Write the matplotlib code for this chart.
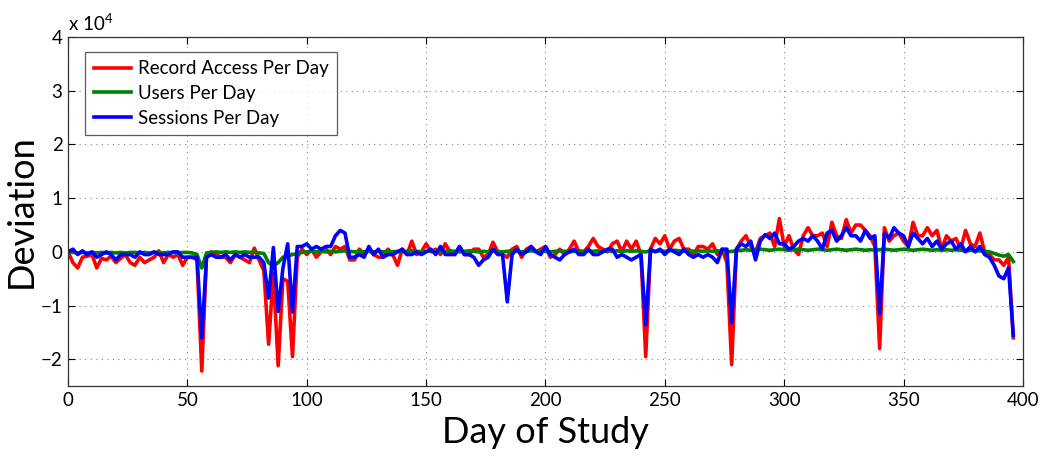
import numpy as np
import matplotlib
matplotlib.use("Agg")
import matplotlib.pyplot as plt

# Day of study (every second day)
days = list(range(0, 397, 2))

# Deviation values in units of 10^4
record_access = [
    0.0, -0.2, -0.3, -0.1, -0.08, -0.05, -0.3, -0.12, -0.15, -0.08,
    -0.2, -0.12, -0.05, -0.2, -0.25, -0.1, -0.2, -0.15, -0.1, 0.02,
    -0.2, -0.05, -0.1, -0.05, -0.25, -0.1, -0.1, -0.15, -2.22, -0.05,
    0.0, -0.05, -0.1, -0.1, -0.2, -0.05, -0.1, -0.15, -0.2, 0.07,
    -0.15, -0.35, -1.72, -0.4, -2.12, -0.5, -0.55, -1.95, -0.1, 0.05,
    -0.05, 0.05, -0.1, 0.0, 0.05, -0.05, 0.1, 0.05, 0.1, -0.15,
    -0.15, 0.05, -0.05, 0.05, -0.05, -0.1, -0.1, 0.05, -0.05, -0.25,
    0.05, -0.05, 0.2, -0.05, 0.0, 0.15, 0.0, 0.05, -0.05, 0.15,
    0.0, -0.05, 0.1, -0.05, -0.05, 0.05, 0.05, -0.1, -0.05, 0.18,
    0.0, -0.05, -0.1, 0.05, 0.1, -0.1, 0.05, 0.1, 0.0, 0.05,
    0.1, -0.1, -0.05, 0.05, -0.05, 0.05, 0.2, 0.0, 0.0, 0.1,
    0.25, 0.1, 0.05, 0.0, 0.15, 0.2, 0.0, 0.2, 0.05, 0.2,
    -0.05, -1.95, 0.05, 0.25, 0.15, 0.3, 0.05, 0.2, 0.25, 0.05,
    0.05, -0.05, 0.1, 0.1, 0.05, 0.15, -0.05, 0.05, -0.2, -2.1,
    0.05, 0.2, 0.3, 0.1, 0.0, 0.25, 0.3, 0.35, 0.1, 0.62,
    0.1, 0.3, 0.05, -0.05, 0.3, 0.45, 0.3, 0.3, 0.35, 0.1,
    0.55, 0.3, 0.25, 0.6, 0.35, 0.5, 0.5, 0.4, 0.3, 0.1,
    -1.8, 0.45, 0.2, 0.3, 0.35, 0.2, 0.1, 0.55, 0.3, 0.3,
    0.45, 0.3, 0.4, 0.05, 0.3, 0.2, 0.25, 0.05, 0.4, 0.15,
    0.1, 0.35, 0.0, -0.05, -0.15, -0.15, -0.25, -0.1, -1.6,
]

users = [
    0.0, -0.01, -0.02, -0.01, -0.02, -0.01, -0.02, -0.01, -0.02, -0.01,
    -0.02, -0.01, -0.02, -0.01, -0.01, -0.02, -0.01, -0.02, -0.01, -0.01,
    -0.02, -0.01, -0.01, -0.02, -0.01, -0.01, -0.02, -0.05, -0.3, -0.02,
    -0.01, 0.0, -0.01, 0.0, -0.01, 0.0, -0.01, 0.0, -0.01, 0.0,
    -0.02, -0.03, -0.2, -0.27, -0.2, -0.1, -0.08, -0.05, -0.03, -0.01,
    0.0, 0.01, 0.0, 0.01, 0.0, 0.01, 0.0, 0.01, 0.02, 0.01,
    0.0, 0.01, 0.0, 0.01, 0.0, 0.01, 0.0, 0.01, 0.0, 0.01,
    0.0, 0.01, 0.02, 0.01, 0.0, 0.01, 0.02, 0.01, 0.0, 0.01,
    0.02, 0.01, 0.0, 0.01, 0.02, 0.01, 0.0, 0.01, 0.0, 0.02,
    0.01, 0.0, 0.01, 0.02, 0.01, 0.0, 0.01, 0.02, 0.01, 0.02,
    0.01, 0.0, 0.01, 0.02, 0.01, 0.0, 0.01, 0.02, 0.01, 0.02,
    0.01, 0.02, 0.01, 0.02, 0.01, 0.02, 0.01, 0.02, 0.01, 0.02,
    0.01, 0.0, 0.02, 0.01, 0.02, 0.01, 0.02, 0.03, 0.02, 0.01,
    0.02, 0.01, 0.02, 0.01, 0.02, 0.01, 0.02, 0.01, 0.0, 0.01,
    0.02, 0.03, 0.04, 0.03, 0.04, 0.05, 0.04, 0.03, 0.04, 0.05,
    0.04, 0.03, 0.04, 0.05, 0.04, 0.03, 0.04, 0.05, 0.04, 0.03,
    0.04, 0.05, 0.04, 0.03, 0.04, 0.05, 0.04, 0.03, 0.04, 0.03,
    0.04, 0.05, 0.04, 0.03, 0.04, 0.05, 0.04, 0.03, 0.04, 0.05,
    0.04, 0.03, 0.04, 0.03, 0.04, 0.03, 0.04, 0.03, 0.02, 0.03,
    0.02, 0.02, 0.01, 0.0, -0.03, -0.06, -0.08, -0.05, -0.18,
]

sessions = [
    0.0, 0.05, -0.05, 0.02, -0.05, 0.0, -0.1, -0.05, 0.0, -0.05,
    -0.15, -0.05, -0.05, -0.05, -0.1, 0.0, -0.05, -0.05, 0.0, -0.05,
    -0.05, -0.05, 0.0, 0.0, -0.1, -0.1, -0.1, -0.1, -1.6, -0.1,
    -0.05, -0.1, -0.1, -0.05, -0.15, -0.05, -0.1, -0.05, -0.1, -0.1,
    -0.1, -0.2, -0.86, 0.08, -1.11, -0.3, 0.15, -1.12, 0.1, 0.1,
    0.15, 0.05, 0.1, 0.05, 0.1, 0.1, 0.3, 0.4, 0.35, -0.1,
    -0.1, -0.05, -0.1, 0.1, -0.05, 0.05, -0.1, -0.05, -0.05, 0.0,
    0.05, -0.05, -0.05, 0.0, -0.05, 0.0, 0.05, -0.05, 0.1, -0.05,
    -0.05, -0.05, 0.1, -0.05, -0.05, -0.1, -0.25, -0.15, -0.1, 0.05,
    -0.05, -0.05, -0.93, -0.05, 0.05, -0.05, 0.0, 0.1, 0.0, -0.05,
    0.1, -0.05, -0.1, -0.15, -0.05, 0.0, 0.05, -0.05, -0.05, 0.05,
    -0.05, -0.05, 0.0, 0.05, 0.05, -0.1, -0.05, -0.1, -0.15, -0.1,
    -0.05, -1.36, 0.05, 0.0, 0.05, -0.05, 0.05, 0.0, -0.05, 0.05,
    -0.05, -0.1, -0.05, -0.1, -0.05, -0.1, -0.2, 0.05, 0.05, -1.32,
    0.05, 0.15, 0.1, 0.2, -0.15, 0.2, 0.32, 0.25, 0.35, 0.15,
    0.15, 0.05, 0.1, 0.2, 0.25, 0.2, 0.3, 0.2, 0.05, 0.35,
    0.4, 0.2, 0.3, 0.45, 0.3, 0.3, 0.2, 0.4, 0.25, 0.3,
    -1.15, 0.35, 0.25, 0.45, 0.35, 0.3, 0.1, 0.35, 0.25, 0.15,
    0.25, 0.1, 0.2, 0.05, 0.15, 0.2, 0.05, 0.15, 0.0, 0.1,
    0.0, 0.1, -0.05, -0.1, -0.25, -0.45, -0.5, -0.3, -1.55,
]

labels = ["Record Access Per Day", "Users Per Day", "Sessions Per Day"]
xticks = [0, 50, 100, 150, 200, 250, 300, 350, 400]
yticks = [-2, -1, 0, 1, 2, 3, 4]

plt.rcParams['font.family'] = ['Lato', 'DejaVu Sans']
plt.rcParams['mathtext.fontset'] = 'custom'
plt.rcParams['mathtext.rm'] = 'Lato'

fig = plt.figure(figsize=(10.48, 4.58), dpi=100)
ax = fig.add_axes([0.065, 0.157, 0.911, 0.762])

ax.plot(days, record_access, color='#ff0000', lw=2.6, label=labels[0])
ax.plot(days, users, color='#008000', lw=2.6, label=labels[1])
ax.plot(days, sessions, color='#0000ff', lw=2.6, label=labels[2])

ax.set_xlim(0, 400)
ax.set_ylim(-2.5, 4)
ax.set_xticks(xticks)
ax.set_yticks(yticks)
ax.tick_params(direction='in', top=True, right=True, labelsize=13.5, length=5, width=0.8, pad=4)
ax.grid(True, linestyle=(0, (1, 4)), color='#888888', linewidth=0.8)
for s in ax.spines.values():
    s.set_linewidth(0.9)
    s.set_color('#333333')

ax.set_xlabel("Day of Study", fontsize=26)
ax.xaxis.set_label_coords(0.5, -0.085)
ax.xaxis.label.set_va('top')
ax.set_ylabel("Deviation", fontsize=26, labelpad=2)
ax.text(0.0, 1.01, r"x 10$^4$", transform=ax.transAxes, fontsize=13.5, ha='left', va='bottom')

leg = ax.legend(loc='upper left', bbox_to_anchor=(0.008, 0.985), fontsize=13.5,
                frameon=True, fancybox=False, edgecolor='#333333', handlelength=2.0,
                borderpad=0.45, labelspacing=0.42, handletextpad=0.35)
leg.get_frame().set_linewidth(0.9)

fig.savefig("out.png", dpi=100)
